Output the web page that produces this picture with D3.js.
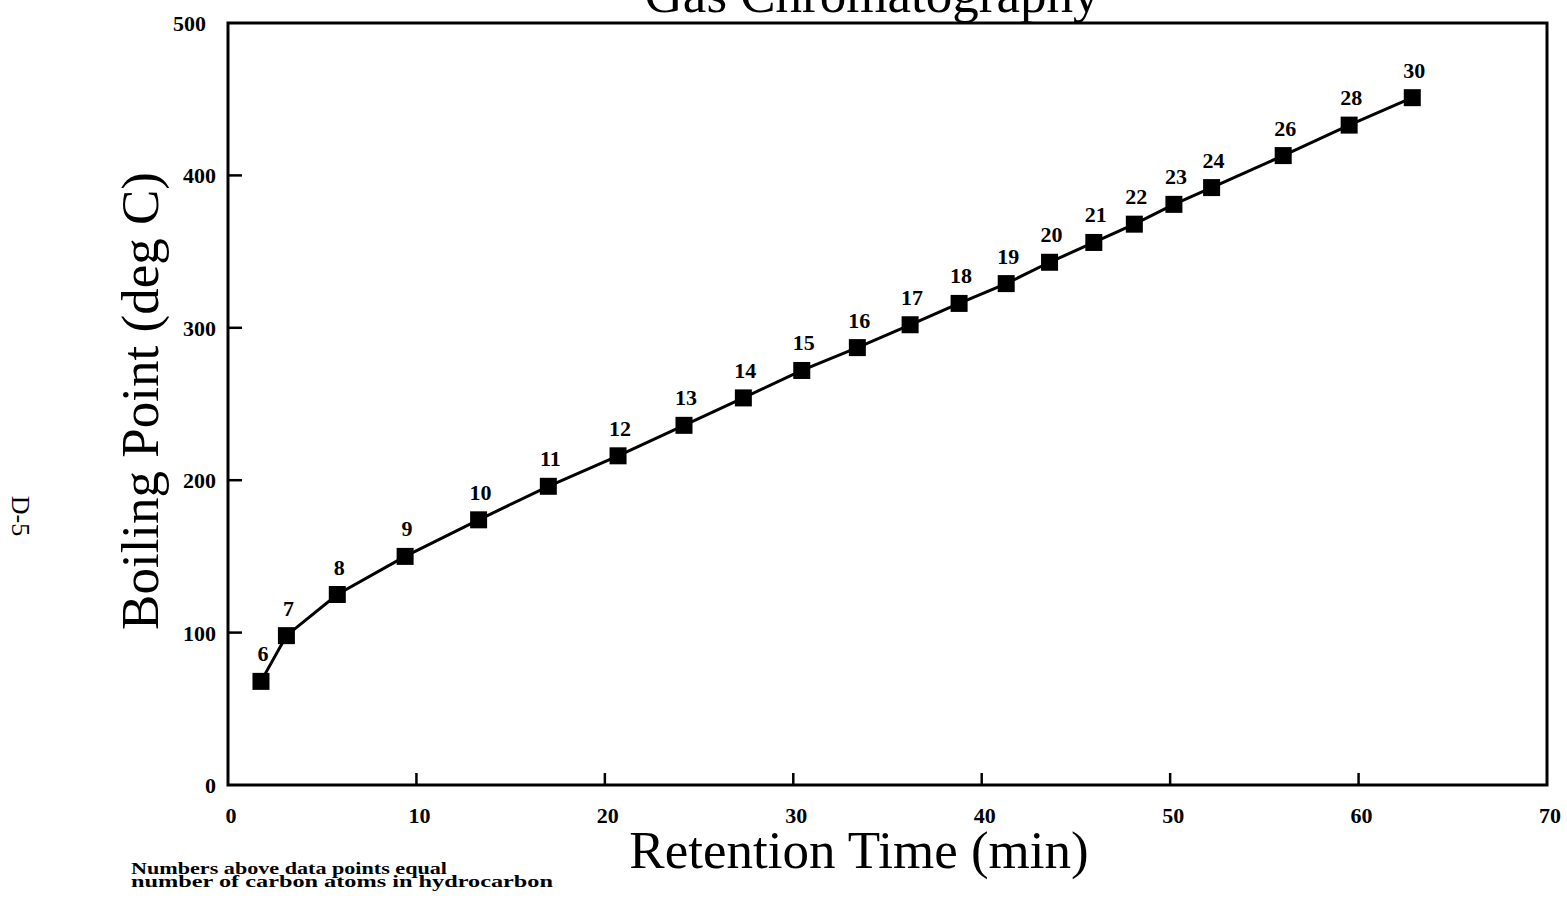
<!DOCTYPE html>
<html>
  <head>
    <meta http-equiv="Content-Type" content="text/html;charset=utf-8">
    <title>Gas Chromatography</title>
    <script src="https://d3js.org/d3.v7.min.js"></script>
    <style type="text/css">
body {
    margin: 0;
    background: #fff;
}
text {
    font-family: "Liberation Serif", "DejaVu Serif", serif;
    fill: #000;
}
.num, .note, .xl, .yl {
    font-weight: bold;
}
    </style>
  </head>
  <body>
    <script type="text/javascript">
// data
var carbons  = [6, 7, 8, 9, 10, 11, 12, 13, 14, 15, 16, 17, 18, 19, 20, 21, 22, 23, 24, 26, 28, 30],
    times    = [1.75, 3.1, 5.8, 9.4, 13.3, 17.0, 20.7, 24.2, 27.35, 30.45, 33.4, 36.2, 38.8, 41.3, 43.6, 45.95, 48.1, 50.2, 52.2, 56.0, 59.5, 62.85],
    boiling  = [68, 98, 125, 150, 174, 196, 216, 236, 254, 272, 287, 302, 316, 329, 343, 356, 368, 381, 392, 413, 433, 451];

var xTicks = [0, 10, 20, 30, 40, 50, 60, 70],
    yTicks = [0, 100, 200, 300, 400, 500];

var W = 1567,
    H = 912,
    pLeft = 228,
    pRight = 1547,
    pTop = 23,
    pBottom = 785;

var svg = d3.select('body').append('svg')
    .attr('width', W)
    .attr('height', H);

var x = d3.scaleLinear().domain([0, 70]).range([pLeft, pRight]),
    y = d3.scaleLinear().domain([0, 500]).range([pBottom, pTop]);

// frame
svg.append('rect')
    .attr('x', pLeft)
    .attr('y', pTop)
    .attr('width', pRight - pLeft)
    .attr('height', pBottom - pTop)
    .attr('fill', 'none')
    .attr('stroke', '#000')
    .attr('stroke-width', 3);

// inward ticks
svg.selectAll('line.xt')
    .data(xTicks.slice(1, -1))
  .enter().append('line')
    .attr('class', 'xt')
    .attr('x1', function(d) { return x(d) })
    .attr('x2', function(d) { return x(d) })
    .attr('y1', pBottom)
    .attr('y2', pBottom - 12)
    .attr('stroke', '#000')
    .attr('stroke-width', 2.5);

svg.selectAll('line.yt')
    .data(yTicks.slice(1, -1))
  .enter().append('line')
    .attr('class', 'yt')
    .attr('x1', pLeft)
    .attr('x2', pLeft + 14)
    .attr('y1', function(d) { return y(d) })
    .attr('y2', function(d) { return y(d) })
    .attr('stroke', '#000')
    .attr('stroke-width', 2.5);

// tick labels
svg.selectAll('text.xl')
    .data(xTicks)
  .enter().append('text')
    .attr('class', 'xl')
    .attr('x', function(d) { return x(d) + 3 })
    .attr('y', 823)
    .attr('text-anchor', 'middle')
    .style('font-size', '22px')
    .text(function(d) { return d });

svg.selectAll('text.yl')
    .data(yTicks)
  .enter().append('text')
    .attr('class', 'yl')
    .attr('x', function(d) { return d == 500 ? 206 : 216 })
    .attr('y', function(d) { return y(d) + 8 })
    .attr('text-anchor', 'end')
    .style('font-size', '22px')
    .text(function(d) { return d });

// line + markers
var pts = times.map(function(t, i) { return [t, boiling[i], carbons[i]] });

svg.append('path')
    .datum(pts)
    .attr('fill', 'none')
    .attr('stroke', '#000')
    .attr('stroke-width', 3)
    .attr('d', d3.line()
        .x(function(d) { return x(d[0]) })
        .y(function(d) { return y(d[1]) }));

var s = 17;
svg.selectAll('rect.pt')
    .data(pts)
  .enter().append('rect')
    .attr('class', 'pt')
    .attr('x', function(d) { return x(d[0]) - s/2 })
    .attr('y', function(d) { return y(d[1]) - s/2 })
    .attr('width', s)
    .attr('height', s)
    .attr('fill', '#000');

svg.selectAll('text.num')
    .data(pts)
  .enter().append('text')
    .attr('class', 'num')
    .attr('x', function(d) { return x(d[0]) + 2 })
    .attr('y', function(d) { return y(d[1]) - 20 })
    .attr('text-anchor', 'middle')
    .style('font-size', '22px')
    .text(function(d) { return d[2] });

// titles
svg.append('text')
    .attr('x', 872)
    .attr('y', 12)
    .attr('text-anchor', 'middle')
    .style('font-size', '53px')
    .text('Gas Chromatography');

svg.append('text')
    .attr('x', 859)
    .attr('y', 868)
    .attr('text-anchor', 'middle')
    .style('font-size', '53px')
    .text('Retention Time (min)');

svg.append('text')
    .attr('transform', 'translate(158,401) rotate(-90)')
    .attr('text-anchor', 'middle')
    .style('font-size', '53px')
    .text('Boiling Point (deg C)');

svg.append('text')
    .attr('transform', 'translate(12,516) rotate(90)')
    .attr('text-anchor', 'middle')
    .style('font-size', '26px')
    .text('D-5');

// footnote
var note = svg.append('text')
    .attr('class', 'note')
    .attr('x', 131)
    .attr('y', 874)
    .style('font-size', '17px');
note.append('tspan')
    .attr('x', 131)
    .attr('textLength', 316)
    .attr('lengthAdjust', 'spacingAndGlyphs')
    .text('Numbers above data points equal');
note.append('tspan')
    .attr('x', 131)
    .attr('dy', 13)
    .attr('textLength', 422)
    .attr('lengthAdjust', 'spacingAndGlyphs')
    .text('number of carbon atoms in hydrocarbon');
    </script>
  </body>
</html>
